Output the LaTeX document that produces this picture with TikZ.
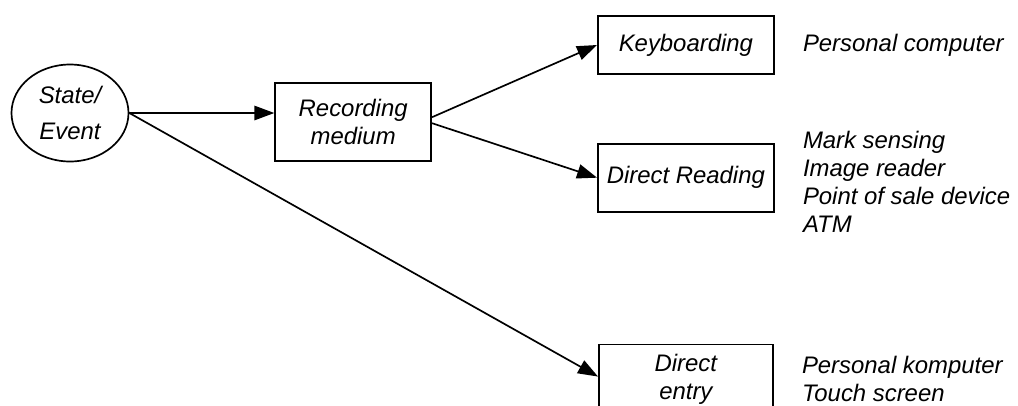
\documentclass[tikz,border=0pt]{standalone}
\usepackage{fontspec}
\setmainfont{Liberation Sans}
\usetikzlibrary{shapes.geometric, arrows.meta, positioning}

\begin{document}
\begin{tikzpicture}[
    every node/.style={font=\fontsize{17}{19.9}\selectfont\itshape},
    stateshape/.style={ellipse, draw=black, line width=1.2pt, minimum width=2.925cm, minimum height=2.425cm, inner sep=0pt, align=center, font=\fontsize{17}{26}\selectfont\itshape},
    box/.style={rectangle, draw=black, line width=1.2pt, inner sep=0pt, align=center},
    device/.style={inner sep=0pt, align=left},
    arrow/.style={-{Triangle[length=0.5cm, width=0.36cm]}, line width=1.2pt}
]
\useasboundingbox (0,0) rectangle (25.45,-10.125);

% Nodes
\node[stateshape] (state) at (1.75,-2.825) {State/\\Event};
\node[box, minimum width=3.9cm, minimum height=1.95cm, right=3.625cm of state, yshift=-0.225cm] (record) {Recording\\medium};
\node[box, minimum width=4.4cm, minimum height=1.45cm, right=4.125cm of record, yshift=1.925cm] (keyboard) {Keyboarding};
\node[box, minimum width=4.4cm, minimum height=1.7cm, below=1.7cm of keyboard] (reading) {Direct Reading};
\node[box, minimum width=4.35cm, minimum height=1.75cm, below=3.275cm of reading] (entry) {Direct\\entry};

% Devices
\node[device, right=0.7cm of keyboard] (kbddev) {Personal computer};
\node[device, right=0.7cm of reading, yshift=-0.1cm] (readdev) {Mark sensing\\Image reader\\Point of sale device\\ATM};
\node[device, right=0.7cm of entry] (entrydev) {Personal komputer\\Touch screen};

% Paths
\draw[arrow] (state.east) -- (state.east -| record.west);
\draw[arrow] ([yshift=0.12cm]record.east) -- (keyboard.west);
\draw[arrow] ([yshift=-0.03cm]record.east) -- (reading.west);
\draw[arrow] (state.east) -- ([yshift=0.07cm]entry.west);

\end{tikzpicture}
\end{document}
